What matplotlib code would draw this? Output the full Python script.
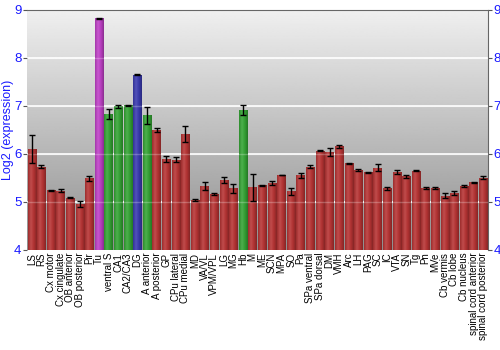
import matplotlib
matplotlib.use("Agg")
import matplotlib.pyplot as plt
import numpy as np
from matplotlib.colors import LinearSegmentedColormap, to_rgb

plt.rcParams['font.family'] = ['Liberation Sans', 'DejaVu Sans']

# === DATA ===
regions = ["LS", "RS", "Cx motor", "Cx cingulate", "OB anterior", "OB posterior", "Pir",
           "Tu", "ventral S", "CA1", "CA2/CA3", "DG", "A anterior", "A posterior", "GP",
           "CPu lateral", "CPu medial", "MD", "VA/VL", "VPM/VPL", "LG", "MG", "Hb", "M",
           "ME", "SCN", "MPA", "SO", "Pa", "SPa ventral", "SPa dorsal", "DM", "VMH", "Arc",
           "LH", "PAG", "SC", "IC", "VTA", "SN", "Tg", "Pn", "MVe", "Cb vermis", "Cb lobe",
           "Cb nucleus", "spinal cord anterior", "spinal cord posterior"]
values = [6.10, 5.73, 5.24, 5.23, 5.09, 4.95, 5.49,
          8.82, 6.83, 6.99, 7.01, 7.65, 6.80, 6.49, 5.89,
          5.88, 6.41, 5.04, 5.33, 5.17, 5.45, 5.28, 6.91, 5.30,
          5.35, 5.39, 5.56, 5.22, 5.55, 5.73, 6.06, 6.04, 6.16, 5.80,
          5.66, 5.62, 5.71, 5.28, 5.62, 5.53, 5.65, 5.29, 5.29, 5.13, 5.19,
          5.33, 5.41, 5.50]
errors = [0.29, 0.03, 0.01, 0.03, 0.01, 0.06, 0.05,
          0.01, 0.11, 0.03, 0.01, 0.01, 0.17, 0.04, 0.06,
          0.05, 0.17, 0.03, 0.08, 0.02, 0.06, 0.10, 0.10, 0.28,
          0.01, 0.04, 0.01, 0.07, 0.06, 0.03, 0.01, 0.08, 0.03, 0.01,
          0.02, 0.01, 0.07, 0.03, 0.04, 0.03, 0.01, 0.03, 0.03, 0.05, 0.04,
          0.02, 0.01, 0.03]
groups = ["r"] * 7 + ["m", "g", "g", "g", "b", "g"] + ["r"] * 9 + ["g"] + ["r"] * 25

group_colors = {"r": "#b83434", "g": "#35a535", "b": "#3a3ab0", "m": "#c040c8"}
BLUE = "#1a1aff"


def shade(c, f):
    r, g, b = to_rgb(c)
    if f >= 1:
        return tuple(x + (1 - x) * (f - 1) for x in (r, g, b))
    return (r * f, g * f, b * f)


fig = plt.figure(figsize=(5, 3.5), dpi=100)
ax = fig.add_axes([0.054, 0.286, 0.922, 0.686])

# background gradient
bg = np.linspace(0.94, 0.56, 256).reshape(-1, 1)
ax.imshow(bg, cmap="gray", vmin=0, vmax=1, aspect="auto", extent=[0, 1, 0, 1],
          transform=ax.transAxes, zorder=0)

x = np.arange(len(regions))
bars = ax.bar(x, np.array(values) - 4, bottom=4, width=0.88, zorder=2,
              color=[group_colors[g] for g in groups], linewidth=0)

# horizontal gradient on each bar
for b, g in zip(bars, groups):
    base = group_colors[g]
    cmap = LinearSegmentedColormap.from_list(
        "bar", [shade(base, 0.85), shade(base, 1.12), shade(base, 0.95), shade(base, 0.72)])
    grad = np.linspace(0, 1, 64).reshape(1, -1)
    bx, by = b.get_x(), b.get_y()
    im = ax.imshow(grad, cmap=cmap, aspect="auto", zorder=2.5,
                   extent=[bx, bx + b.get_width(), by, by + b.get_height()])
    im.set_clip_path(b)

ax.errorbar(x, values, yerr=errors, fmt="none", ecolor="black", elinewidth=1,
            capsize=2, capthick=1, zorder=4)

for yv in [5, 6, 7, 8]:
    ax.axhline(yv, color="white", lw=1.2, zorder=1)
    ax.axhline(yv, color="white", lw=1.0, alpha=0.25, zorder=3)

ax.set_xlim(-0.5, len(regions) - 0.5)
ax.set_ylim(4, 9)
ax.set_yticks([4, 5, 6, 7, 8, 9])
ax.set_xticks(x)
ax.set_xticklabels(regions, rotation=90, fontsize=7)
ax.tick_params(axis="x", length=0, pad=2)
ax.tick_params(axis="y", labelsize=9.5, length=3, labelright=True, right=True,
               pad=1, color="#555555", labelcolor=BLUE)
ax.set_ylabel("Log2 (expression)", color=BLUE, fontsize=9, labelpad=0)

for s in ["left", "bottom"]:
    ax.spines[s].set_visible(False)
ax.spines["top"].set_color("#666666")
ax.spines["right"].set_color("#666666")

fig.savefig("out.png", dpi=100)
